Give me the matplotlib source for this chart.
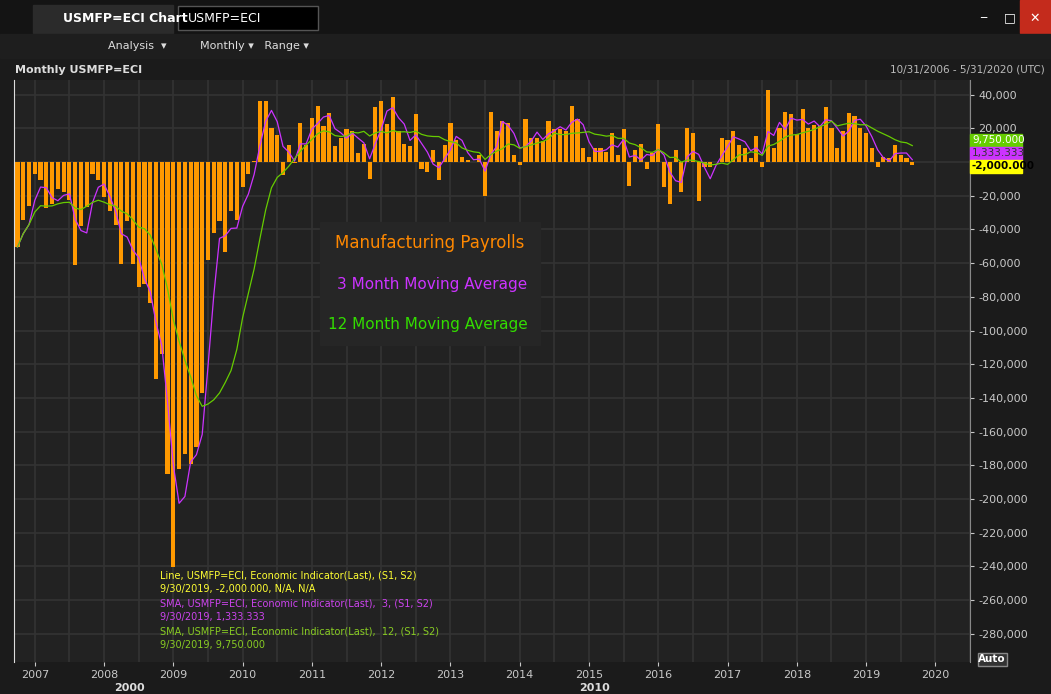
import numpy as np
import pandas as pd
import matplotlib
matplotlib.use("Agg")
from matplotlib import pyplot as plt
from matplotlib.patches import Rectangle

W, H = 1051, 694

# monthly change in manufacturing payrolls, Oct 2006 .. Sep 2019
payrolls = [
    -50400, -34600, -26300,
    -7300, -10900, -27500, -25100, -16200, -18000, -22400, -61300, -38200, -26700, -7300, -10900,
    -21000, -29300, -37600, -60700, -35200, -60700, -74400, -72600, -83900, -129000, -114000, -185000,
    -240500, -182000, -173000, -179000, -169000, -137000, -58400, -42300, -35200, -53600, -29300, -34600,
    -15000, -7300, 500, 36000, 36000, 20000, 15800, -7900, 9900, -400, 22900, 9900,
    25900, 33000, 21200, 28900, 9300, 14000, 19400, 18200, 5100, 11000, -10300, 32400,
    36000, 22400, 38400, 18200, 11000, 9300, 28300, -4400, -6100, 6900, -10900, 9900,
    22900, 12900, 2800, 1000, 300, 4000, -20400, 30000, 18200, 24100, 22900, 4000,
    -1800, 25300, 14000, 14000, 12300, 24100, 19400, 19400, 18200, 33000, 25300, 8100,
    2800, 8100, 8100, 5700, 17000, 4000, 19400, -14400, 6900, 11000, -4400, 5100,
    22400, -15000, -25100, 6900, -18000, 20000, 17000, -23300, -3200, -3200, 300, 14000,
    12900, 18200, 9900, 8100, 2200, 15200, -3200, 42500, 8100, 20000, 30000, 28300,
    16400, 31200, 20000, 21800, 21200, 32400, 20000, 8100, 18200, 28900, 27300, 20000,
    17000, 8100, -3200, 2800, 2200, 9900, 4000, 2200, -2000,
]
years = list(range(2007, 2021))
y_ticks = list(range(-280000, 40001, 20000))
info_lines = [
    ("Line, USMFP=ECI, Economic Indicator(Last), (S1, S2)", "#ffff33"),
    ("9/30/2019, -2,000.000, N/A, N/A", "#ffff33"),
    ("SMA, USMFP=ECI, Economic Indicator(Last),  3, (S1, S2)", "#cc44ee"),
    ("9/30/2019, 1,333.333", "#cc44ee"),
    ("SMA, USMFP=ECI, Economic Indicator(Last),  12, (S1, S2)", "#88cc22"),
    ("9/30/2019, 9,750.000", "#88cc22"),
]

ORANGE = "#ff9900"
MAGENTA = "#cc33ff"
GREEN = "#66cc00"

vals = pd.Series(payrolls, dtype=float)
sma3 = vals.rolling(3, min_periods=1).mean()
sma12 = vals.rolling(12, min_periods=1).mean()
idx = np.arange(len(vals))


def px(x, y):
    return x / W, 1 - y / H


fig = plt.figure(figsize=(W / 100, H / 100), dpi=100, facecolor="#1b1b1b")

# window chrome
fig.patches.append(Rectangle(px(0, 33), 1, 33 / H, transform=fig.transFigure, color="#141414"))
fig.patches.append(Rectangle(px(33, 33), 140 / W, 28 / H, transform=fig.transFigure, color="#2b2b2b"))
fig.patches.append(Rectangle(px(178, 30), 140 / W, 24 / H, transform=fig.transFigure, color="#000000",
                             ec="#555555"))
fig.patches.append(Rectangle(px(1020, 33), 31 / W, 33 / H, transform=fig.transFigure, color="#c42b1c"))
fig.text(*px(63, 18), "USMFP=ECI Chart", color="white", fontsize=9, fontweight="bold", va="center")
fig.text(*px(188, 18), "USMFP=ECI", color="white", fontsize=9, va="center")
fig.text(*px(1035, 18), "✕", color="white", fontsize=9, va="center", ha="center")
fig.text(*px(1010, 18), "□", color="white", fontsize=9, va="center", ha="center")
fig.text(*px(983, 18), "_", color="white", fontsize=9, va="bottom", ha="center")
fig.patches.append(Rectangle(px(0, 58), 1, 24 / H, transform=fig.transFigure, color="#1e1e1e"))
fig.text(*px(108, 46), "Analysis  ▾", color="#dddddd", fontsize=8, va="center")
fig.text(*px(200, 46), "Monthly ▾   Range ▾", color="#dddddd", fontsize=8, va="center")
fig.text(*px(15, 70), "Monthly USMFP=ECI", color="#dddddd", fontsize=8, fontweight="bold", va="center")
fig.text(*px(1045, 70), "10/31/2006 - 5/31/2020 (UTC)", color="#bbbbbb", fontsize=7.5, va="center", ha="right")

ax = fig.add_axes([14 / W, 32 / H, 956 / W, 582 / H], facecolor="#222222")
ax.bar(idx, vals, width=0.72, color=ORANGE, zorder=2)
ax.plot(idx, sma3, color=MAGENTA, lw=0.9, zorder=3)
ax.plot(idx, sma12, color=GREEN, lw=0.9, zorder=3)

ax.set_xlim(-0.6, 163.2)
ax.set_ylim(-296700, 48700)
jan = [3 + 12 * (y - 2007) for y in years]
ax.set_xticks(jan)
ax.set_xticklabels([str(y) for y in years])
ax.set_xticks([j + 6 for j in jan], minor=True)
ax.yaxis.tick_right()
ax.set_yticks(y_ticks)
# the zero label sits behind the last-value tags
ax.set_yticklabels(["" if v == 0 else f"{v:,}" for v in y_ticks])
ax.tick_params(colors="#c8c8c8", labelsize=8, length=3, pad=3)
ax.tick_params(axis="x", which="minor", length=0)
ax.grid(True, which="both", color="#333333", lw=1.2, zorder=0)
for s in ax.spines.values():
    s.set_visible(False)
ax.spines["left"].set_visible(True)
ax.spines["left"].set_color("#dddddd")
ax.spines["right"].set_visible(True)
ax.spines["right"].set_color("#888888")

# legend box
fig.patches.append(Rectangle(px(320, 345), 220 / W, 123 / H, transform=fig.transFigure,
                             color="#262626", zorder=5))
fig.text(*px(430, 243), "Manufacturing Payrolls", color="#ff8800", fontsize=12, ha="center", va="center", zorder=6)
fig.text(*px(432, 284), "3 Month Moving Average", color=MAGENTA, fontsize=11, ha="center", va="center", zorder=6)
fig.text(*px(428, 325), "12 Month Moving Average", color="#33dd00", fontsize=11, ha="center", va="center", zorder=6)

for i, (t, c) in enumerate(info_lines):
    fig.text(*px(160, 575 + 14 * i), t, color=c, fontsize=7, va="center")

# last value tags
tags = [("9,750.000", "#66cc00", "white", 140), ("1,333.333", MAGENTA, "#333333", 153),
        ("-2,000.000", "#ffff00", "black", 166)]
for t, bg, fg, y in tags:
    fig.patches.append(Rectangle(px(970, y + 6.5), 52 / W, 13 / H, transform=fig.transFigure, color=bg))
    fig.text(*px(972, y), t, color=fg, fontsize=7.5, va="center", fontweight="bold" if fg == "black" else None)

fig.patches.append(Rectangle(px(978, 666), 29 / W, 13 / H, transform=fig.transFigure, color="#333333",
                             ec="#888888"))
fig.text(*px(992, 659), "Auto", color="white", fontsize=7.5, fontweight="bold", ha="center", va="center")
fig.text(*px(129, 688), "2000", color="#dddddd", fontsize=8, fontweight="bold", ha="center", va="center")
fig.text(*px(595, 688), "2010", color="#dddddd", fontsize=8, fontweight="bold", ha="center", va="center")

fig.savefig("out.png", dpi=100, facecolor=fig.get_facecolor())
